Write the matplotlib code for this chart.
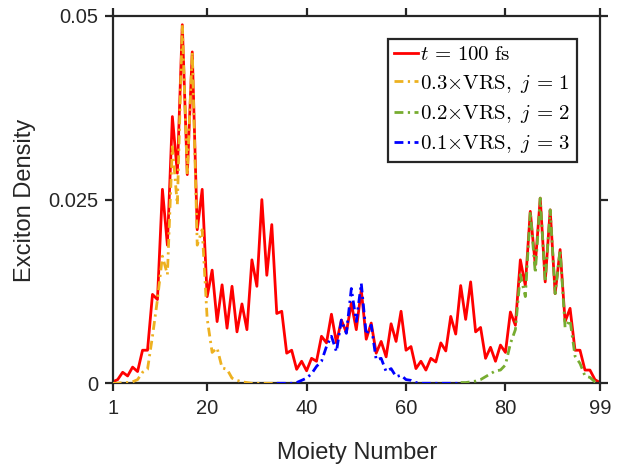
import matplotlib

matplotlib.use("Agg")
import matplotlib.pyplot as plt
import numpy as np

# moiety index and exciton density at t = 100 fs
moiety = np.arange(1, 100)
density_100fs = [
    0.0002, 0.0005, 0.0015, 0.0010, 0.0022, 0.0016, 0.0045, 0.0045, 0.0121, 0.0114,
    0.0264, 0.0188, 0.0363, 0.0286, 0.0488, 0.0284, 0.0451, 0.0209, 0.0264, 0.0118,
    0.0154, 0.0084, 0.0134, 0.0075, 0.0132, 0.0070, 0.0108, 0.0073, 0.0168, 0.0132,
    0.0250, 0.0147, 0.0216, 0.0095, 0.0098, 0.0041, 0.0045, 0.0019, 0.0030, 0.0017,
    0.0034, 0.0030, 0.0064, 0.0055, 0.0094, 0.0055, 0.0086, 0.0069, 0.0109, 0.0073,
    0.0127, 0.0060, 0.0082, 0.0041, 0.0057, 0.0036, 0.0081, 0.0057, 0.0098, 0.0045,
    0.0050, 0.0020, 0.0030, 0.0018, 0.0034, 0.0029, 0.0055, 0.0044, 0.0091, 0.0067,
    0.0133, 0.0087, 0.0138, 0.0070, 0.0076, 0.0034, 0.0049, 0.0030, 0.0052, 0.0042,
    0.0097, 0.0079, 0.0168, 0.0133, 0.0234, 0.0161, 0.0252, 0.0138, 0.0236, 0.0122,
    0.0182, 0.0084, 0.0102, 0.0045, 0.0045, 0.0018, 0.0018, 0.0005, 0.0001,
]

# scaled VRS profiles, each given over its own moiety window
vrs1_first, vrs1_last = 1, 35
vrs1 = [
    0.0000, 0.0000, 0.0001, 0.0001, 0.0002, 0.0005, 0.0015, 0.0019, 0.0064, 0.0114,
    0.0173, 0.0148, 0.0322, 0.0243, 0.0488, 0.0284, 0.0451, 0.0188, 0.0209, 0.0088,
    0.0042, 0.0048, 0.0021, 0.0019, 0.0007, 0.0004, 0.0002, 0.0001, 0.0000, 0.0000,
    0.0000, 0.0000, 0.0000, 0.0000, 0.0000,
]
vrs3_first, vrs3_last = 34, 71
vrs3 = [
    0.0000, 0.0000, 0.0000, 0.0000, 0.0001, 0.0004, 0.0007, 0.0013, 0.0023, 0.0030,
    0.0050, 0.0064, 0.0043, 0.0086, 0.0068, 0.0129, 0.0084, 0.0136, 0.0066, 0.0079,
    0.0032, 0.0034, 0.0016, 0.0020, 0.0009, 0.0011, 0.0005, 0.0004, 0.0001, 0.0000,
    0.0000, 0.0000, 0.0000, 0.0000, 0.0000, 0.0000, 0.0000, 0.0000,
]
vrs2_first, vrs2_last = 71, 99
vrs2 = [
    0.0001, 0.0001, 0.0002, 0.0003, 0.0005, 0.0009, 0.0013, 0.0017, 0.0018, 0.0025,
    0.0054, 0.0073, 0.0148, 0.0118, 0.0234, 0.0150, 0.0252, 0.0138, 0.0236, 0.0122,
    0.0182, 0.0076, 0.0086, 0.0037, 0.0027, 0.0010, 0.0008, 0.0002, 0.0000,
]

labels = [r"$t\, =\, 100\ \mathrm{fs}$",
          r"$0.3{\times}\mathrm{VRS},\ j\, =\, 1$",
          r"$0.2{\times}\mathrm{VRS},\ j\, =\, 2$",
          r"$0.1{\times}\mathrm{VRS},\ j\, =\, 3$"]
x_ticks = [1, 20, 40, 60, 80, 99]
y_ticks = [0, 0.025, 0.05]
y_ticklabels = ["0", "0.025", "0.05"]

plt.rcParams["font.family"] = ["Liberation Sans", "DejaVu Sans"]
plt.rcParams["mathtext.fontset"] = "cm"

fig = plt.figure(figsize=(6.21, 4.68), dpi=100)
ax = fig.add_axes([0.1815, 0.181, 0.7845, 0.785])

dash_dot = (0, (3.2, 1.6, 0.8, 1.6))
lw = 2.0
ax.plot(moiety, density_100fs, color="#ff0000", lw=lw, label=labels[0], zorder=2)
ax.plot(np.arange(vrs1_first, vrs1_last + 1), vrs1, color="#EDB120", lw=lw,
        ls=dash_dot, label=labels[1], zorder=3)
ax.plot(np.arange(vrs2_first, vrs2_last + 1), vrs2, color="#77AC30", lw=lw,
        ls=dash_dot, label=labels[2], zorder=3)
ax.plot(np.arange(vrs3_first, vrs3_last + 1), vrs3, color="#0000ff", lw=lw,
        ls=dash_dot, label=labels[3], zorder=4)

ax.set_xlim(1, 99)
ax.set_ylim(0, 0.05)
ax.set_xticks(x_ticks)
ax.set_yticks(y_ticks)
ax.set_yticklabels(y_ticklabels)

dark = "#262626"
for s in ax.spines.values():
    s.set_linewidth(1.6)
    s.set_color(dark)
ax.tick_params(direction="out", length=5.5, width=1.6, color=dark, labelcolor=dark,
               labelsize=14.5, top=True, right=True)
ax.tick_params(axis="x", pad=6)
ax.tick_params(axis="y", pad=5)

fig.text(25 / 621, 1 - 200 / 468, "Exciton Density", fontsize=17, color=dark,
         rotation=90, ha="center", va="center")
fig.text(357 / 621, 1 - 453 / 468, "Moiety Number", fontsize=17, color=dark,
         ha="center", va="center")

leg = ax.legend(loc="upper right", bbox_to_anchor=(0.953, 0.937), borderaxespad=0,
                fontsize=15, handlelength=1.15, handletextpad=0.1,
                borderpad=0.3, labelspacing=0.4, fancybox=False, framealpha=1)
leg.get_frame().set_edgecolor(dark)
leg.get_frame().set_linewidth(1.6)

fig.savefig("out.png", dpi=100)
